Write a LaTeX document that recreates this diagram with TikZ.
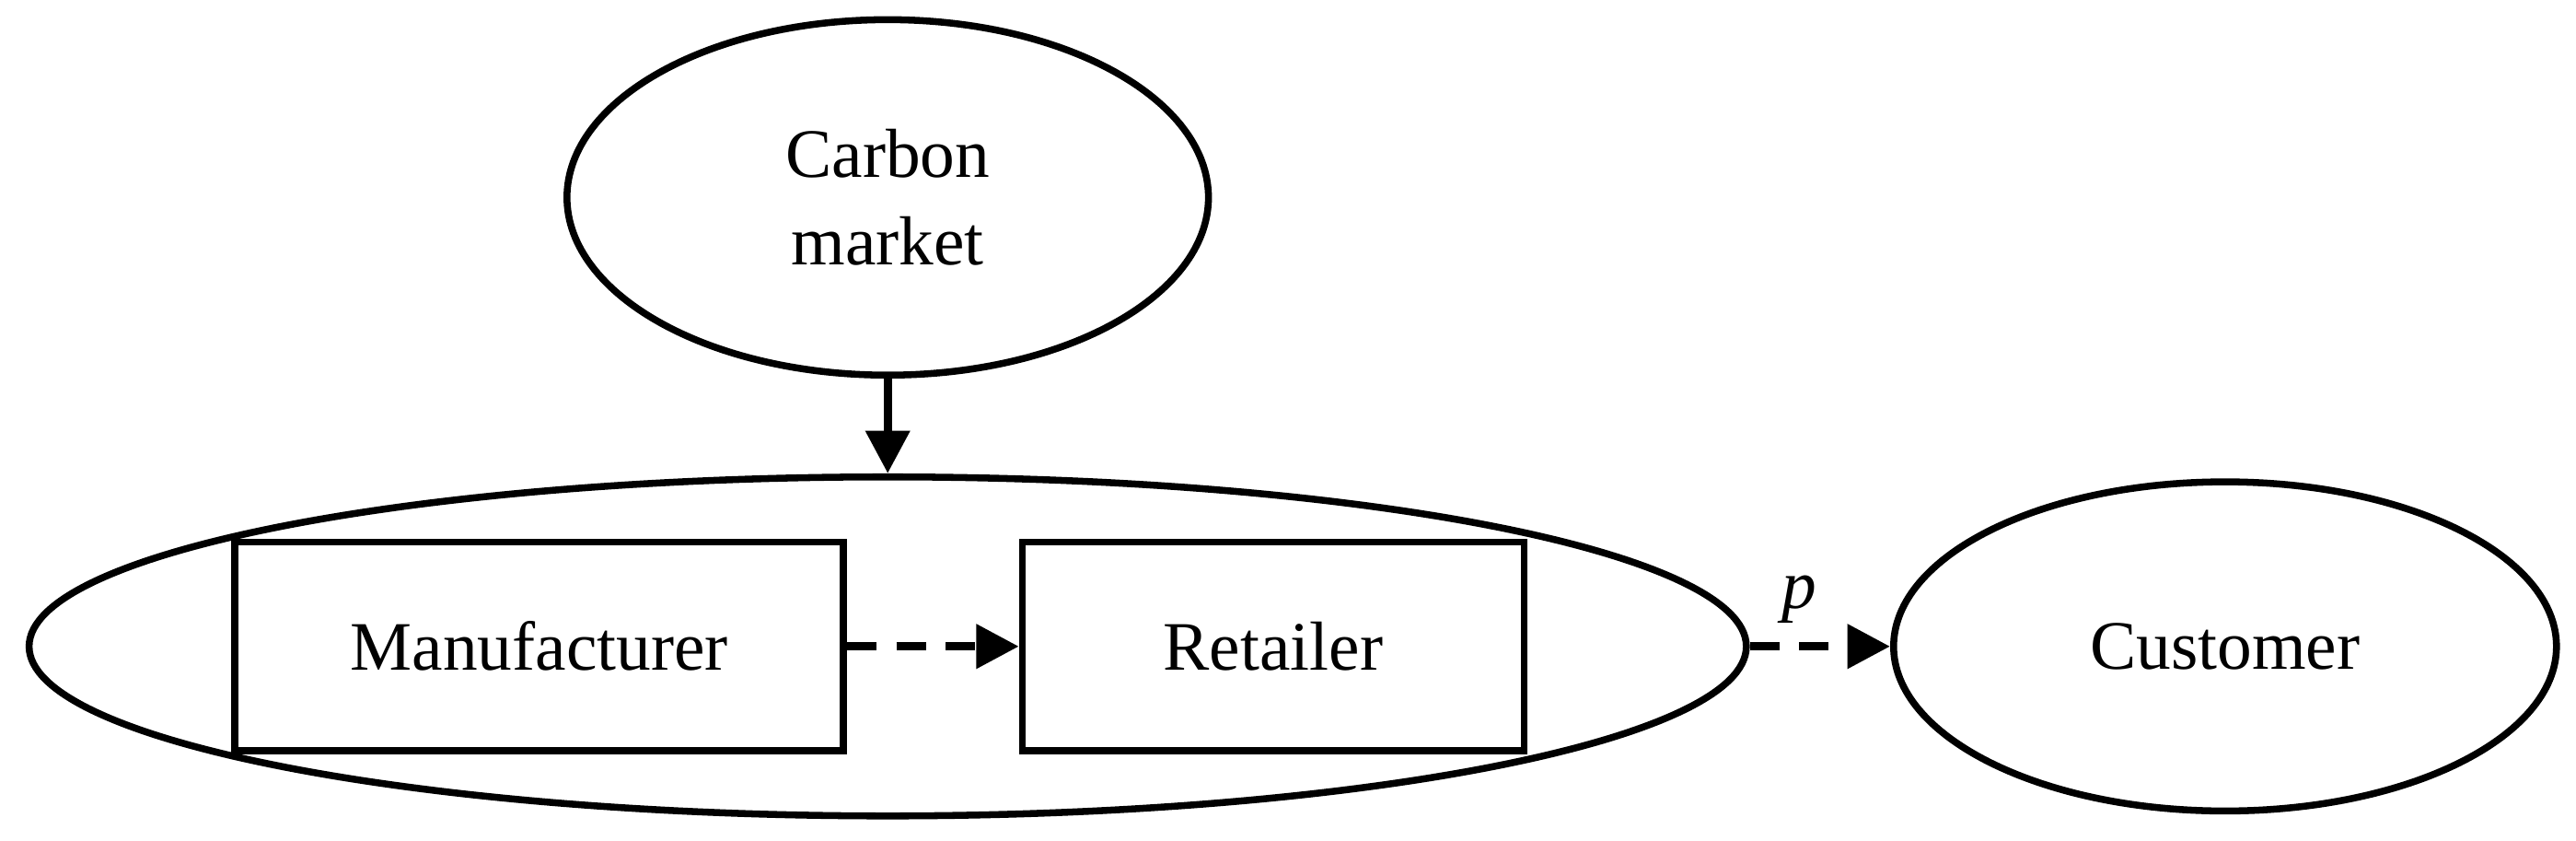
\documentclass[tikz,border=0pt]{standalone}
\usepackage{fontspec}
\setmainfont{Liberation Serif}
\usetikzlibrary{shapes.geometric,arrows.meta}
\begin{document}
\begin{tikzpicture}[x=0.01cm,y=-0.01cm,
  ell/.style={draw,ellipse,line width=1.2pt,inner sep=0pt,font=\fontsize{12}{15}\selectfont,align=center},
  box/.style={draw,rectangle,line width=1.2pt,inner sep=0pt,font=\fontsize{12}{15}\selectfont},
  arr/.style={line width=1.5pt,-{Triangle[length=0.26cm,width=0.26cm]}},
  darr/.style={arr,dash pattern=on 0.18cm off 0.12cm}]
\useasboundingbox (0,0) rectangle (1567,511);
\node[ell,minimum width=3.9cm,minimum height=2.16cm] (carbon) at (540,120) {Carbon\\market};
\node[ell,minimum width=10.44cm,minimum height=2.06cm] (sc) at (540,393) {};
\node[box,minimum width=3.7cm,minimum height=1.27cm] (man) at (328,393) {Manufacturer};
\node[box,minimum width=3.05cm,minimum height=1.27cm] (ret) at (774.5,393) {Retailer};
\node[ell,minimum width=4.03cm,minimum height=2.0cm] (cust) at (1353.5,393) {Customer};
\draw[arr] (carbon.south) -- (sc.north);
\draw[darr] (man.east) -- (ret.west);
\draw[darr] (sc.east) -- node[above,pos=0.35,font=\itshape\fontsize{12}{15}\selectfont]{p} (cust.west);
\end{tikzpicture}
\end{document}
